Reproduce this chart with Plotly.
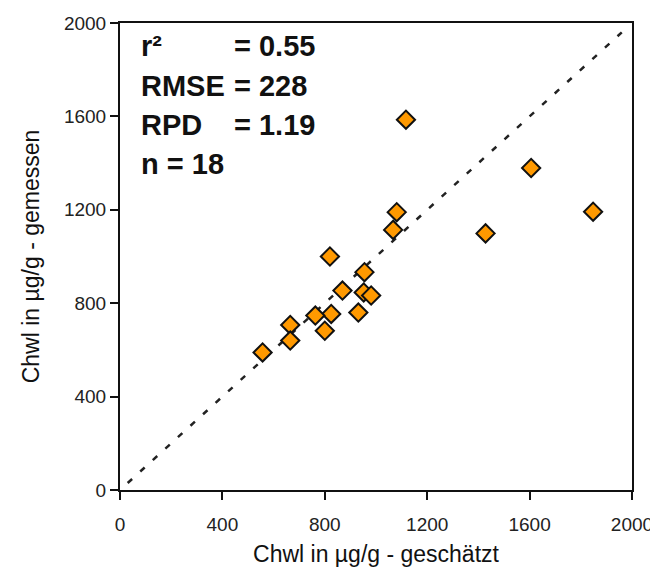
import plotly.graph_objects as go

# Data
x_est = [1117, 1606, 1848, 1428, 1081, 1067, 820, 955, 869, 952, 981, 931, 825, 763, 665, 800, 665, 557]
y_meas = [1586, 1379, 1192, 1099, 1190, 1114, 1000, 933, 854, 846, 833, 760, 754, 747, 707, 682, 640, 589]
line_x = [30, 1960]
line_y = [30, 1960]
tick_vals = [0, 400, 800, 1200, 1600, 2000]
tick_text = ["0", "400", "800", "1200", "1600", "2000"]
stat_labels = ["r²", "RMSE", "RPD", "n = 18"]
stat_values = ["= 0.55", "= 228", "= 1.19", ""]

# The page body adds an 8px offset; figure is sized so window positions match.
W, H = 650, 573
L, R, T, B = 112, 26, 15, 91
pw, ph = W - L - R, H - T - B
OFF = 8


def px_to_paper_x(wx):
    return (wx - OFF - L) / pw


def px_to_paper_y(wy):
    return (H - B - (wy - OFF)) / ph


fig = go.Figure()
fig.add_trace(go.Scatter(
    x=line_x, y=line_y, mode="lines",
    line=dict(color="#222", width=2.5, dash="6px,11px"),
    hoverinfo="skip", showlegend=False))
fig.add_trace(go.Scatter(
    x=x_est, y=y_meas, mode="markers",
    marker=dict(symbol="diamond", size=14, color="#FF9900",
                line=dict(color="#111", width=2)),
    showlegend=False))

font_fam = "Liberation Sans, Arial, sans-serif"
row_centers = [46, 86, 125, 164]
for lab, val, cy in zip(stat_labels, stat_values, row_centers):
    py = px_to_paper_y(cy)
    fig.add_annotation(x=px_to_paper_x(139), y=py, xref="paper", yref="paper",
                       text="<b>%s</b>" % lab, showarrow=False, xanchor="left", yanchor="middle",
                       font=dict(size=29, color="#111", family=font_fam))
    if val:
        fig.add_annotation(x=px_to_paper_x(232), y=py, xref="paper", yref="paper",
                           text="<b>%s</b>" % val, showarrow=False, xanchor="left", yanchor="middle",
                           font=dict(size=29, color="#111", family=font_fam))

axis_common = dict(
    range=[0, 2000], tickvals=tick_vals, ticktext=tick_text, automargin=False,
    showgrid=False, zeroline=False, showline=True, linecolor="#111", linewidth=2,
    mirror=True, ticks="outside", ticklen=8, tickwidth=2, tickcolor="#111",
    tickfont=dict(size=19, color="#222", family=font_fam),
)
fig.update_layout(
    width=W, height=H,
    margin=dict(l=L, r=R, t=T, b=B, autoexpand=False),
    paper_bgcolor="white", plot_bgcolor="white",
    font=dict(family=font_fam),
    xaxis=dict(**axis_common, ticklabelstandoff=8,
               title=dict(text="Chwl in µg/g - geschätzt",
                          font=dict(size=23, color="#111", family=font_fam),
                          standoff=12)),
    yaxis=dict(**axis_common,
               title=dict(text="Chwl in µg/g - gemessen",
                          font=dict(size=23, color="#111", family=font_fam),
                          standoff=18)),
)
fig.write_html("out.html")
